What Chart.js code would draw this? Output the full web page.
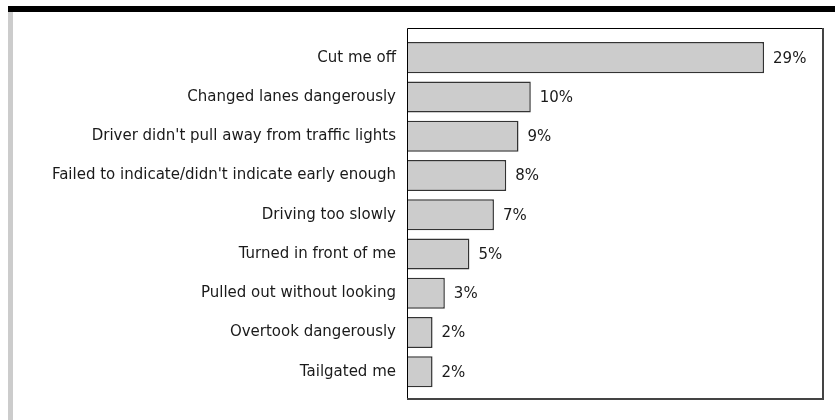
<!DOCTYPE html>
<html>
<head>
<meta charset="utf-8">
<script src="https://cdn.jsdelivr.net/npm/chart.js@4/dist/chart.umd.min.js"></script>
<style>
  html, body { margin: 0; padding: 0; background: #fff; }
  #wrap { position: relative; width: 835px; height: 420px; }
</style>
</head>
<body>
<div id="wrap"><canvas id="c" width="835" height="420"></canvas></div>
<script>
const categories = [
  "Cut me off",
  "Changed lanes dangerously",
  "Driver didn't pull away from traffic lights",
  "Failed to indicate/didn't indicate early enough",
  "Driving too slowly",
  "Turned in front of me",
  "Pulled out without looking",
  "Overtook dangerously",
  "Tailgated me"
];
const percentValues = [29, 10, 9, 8, 7, 5, 3, 2, 2];
const valueLabels = ["29%", "10%", "9%", "8%", "7%", "5%", "3%", "2%", "2%"];

const FONT = "'DejaVu Sans', sans-serif";

const decorPlugin = {
  id: 'decor',
  beforeDraw(chart) {
    const ctx = chart.ctx;
    ctx.save();
    ctx.fillStyle = '#fff';
    ctx.fillRect(0, 0, chart.width, chart.height);
    ctx.fillStyle = '#000';
    ctx.fillRect(8, 6, chart.width - 8, 6);
    ctx.fillStyle = '#cccccc';
    ctx.fillRect(8, 12, 5, chart.height - 12);
    ctx.restore();
  },
  afterDatasetsDraw(chart) {
    const ctx = chart.ctx;
    const a = chart.chartArea;
    const top = a.top - 10, bottom = a.bottom + 7.5;
    ctx.save();
    ctx.strokeStyle = '#000';
    ctx.lineWidth = 1;
    ctx.beginPath();
    ctx.moveTo(a.right, top + 0.5);
    ctx.lineTo(a.left - 0.5, top + 0.5);
    ctx.lineTo(a.left - 0.5, bottom);
    ctx.stroke();
    ctx.strokeStyle = '#444';
    ctx.lineWidth = 2;
    ctx.beginPath();
    ctx.moveTo(a.left - 1, bottom);
    ctx.lineTo(a.right, bottom);
    ctx.lineTo(a.right, top);
    ctx.stroke();
    const meta = chart.getDatasetMeta(0);
    ctx.fillStyle = '#1a1a1a';
    ctx.font = "15px " + FONT;
    ctx.textAlign = 'left';
    ctx.textBaseline = 'middle';
    meta.data.forEach((bar, i) => {
      ctx.fillText(valueLabels[i], bar.x + 9, bar.y + 1);
    });
    ctx.restore();
  }
};

new Chart(document.getElementById('c'), {
  type: 'bar',
  data: {
    labels: categories,
    datasets: [{
      data: percentValues,
      backgroundColor: '#cccccc',
      borderColor: '#333333',
      borderWidth: 1.5,
      barPercentage: 0.79,
      categoryPercentage: 1.0
    }]
  },
  options: {
    indexAxis: 'y',
    responsive: false,
    animation: false,
    devicePixelRatio: 1,
    layout: { padding: { top: 38, bottom: 28.6, right: 12, left: 0 } },
    plugins: { legend: { display: false }, tooltip: { enabled: false } },
    scales: {
      x: {
        min: 0, max: 33.8,
        display: false,
        grid: { display: false }
      },
      y: {
        grid: { display: false, drawTicks: false },
        border: { display: false },
        ticks: {
          padding: 12,
          color: '#1a1a1a',
          font: { family: FONT, size: 15 },
          autoSkip: false
        },
        afterFit(scale) { scale.width = 408; }
      }
    }
  },
  plugins: [decorPlugin]
});
</script>
</body>
</html>
